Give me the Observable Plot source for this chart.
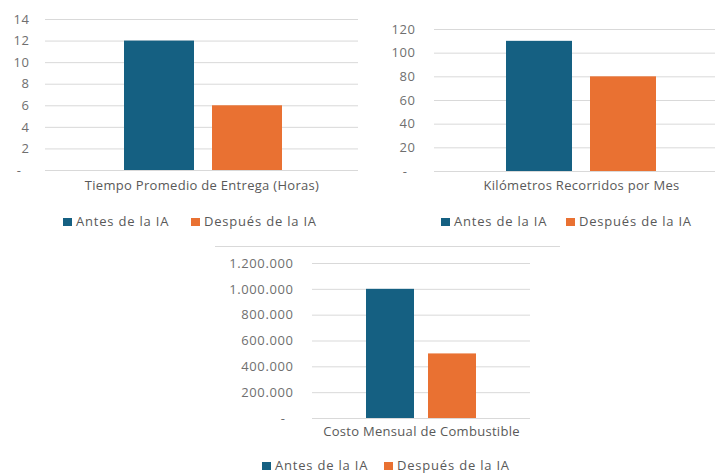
<!DOCTYPE html>
<html>
<head>
<meta charset="utf-8">
<script src="https://cdn.jsdelivr.net/npm/d3@7"></script>
<script src="https://cdn.jsdelivr.net/npm/@observablehq/plot@0.6"></script>
<style>
  html, body { margin: 0; padding: 0; background: #fff; }
  body { width: 715px; height: 474px; position: relative; overflow: hidden; font-family: "Open Sans", sans-serif; }
  .chart { position: absolute; }
  .chart svg { overflow: visible; max-width: none !important; }
  .chart svg g[aria-label="y-axis tick label"] text { letter-spacing: 0.6px; fill: #6f6f6f; }
  .chart svg g[aria-label="text"] text { letter-spacing: 0.3px; }
  .legend { position: absolute; font-size: 13px; color: #595959; white-space: nowrap; height: 16px; line-height: 16px; letter-spacing: 0.8px; }
  .legend span.sw { display: inline-block; width: 9px; height: 8px; margin-right: 4px; vertical-align: 0px; }
  .legend span.item { position: absolute; top: 0; }
  .border { position: absolute; height: 0; border-top: 1px solid #d9d9d9; }
</style>
</head>
<body>
<div class="border" style="left:215px; top:246px; width:345px;"></div>
<script>
const series = ["Antes de la IA", "Después de la IA"];
const seriesColors = ["#156082", "#E97132"];
const categories = ["Tiempo Promedio de Entrega (Horas)", "Kilómetros Recorridos por Mes", "Costo Mensual de Combustible"];
const tiempo = [12, 6];
const kilometros = [110, 80];
const costo = [1000000, 500000];
const ticksTiempo = [0, 2, 4, 6, 8, 10, 12, 14];
const ticksKm = [0, 20, 40, 60, 80, 100, 120];
const ticksCosto = [0, 200000, 400000, 600000, 800000, 1000000, 1200000];

const esFmt = d3.formatLocale({decimal: ",", thousands: ".", grouping: [3], currency: ["", ""]}).format(",");

function makeChart(cfg) {
  const data = series.map((s, i) => ({series: s, value: cfg.values[i]}));
  const plot = Plot.plot({
    width: cfg.width,
    height: cfg.height,
    marginLeft: cfg.ml, marginRight: cfg.mr, marginTop: cfg.mt, marginBottom: cfg.mb,
    style: {fontFamily: "'Open Sans', sans-serif", fontSize: "13px", color: "#595959", background: "transparent", overflow: "visible"},
    x: {type: "band", domain: series, range: cfg.xr, paddingInner: cfg.pad, paddingOuter: 0, axis: null},
    y: {domain: [cfg.ticks[0], cfg.ticks[cfg.ticks.length - 1]], axis: null},
    color: {domain: series, range: seriesColors},
    marks: [
      Plot.ruleY(cfg.ticks, {stroke: "#d9d9d9", strokeWidth: 1}),
      Plot.axisY({ticks: cfg.ticks, tickSize: 0, tickPadding: cfg.tp, label: null,
        tickFormat: d => d === 0 ? "-\u2007" : cfg.fmt(d)}),
      Plot.barY(data, {x: "series", y: "value", fill: "series"}),
      Plot.text([cfg.category], {frameAnchor: "bottom", dy: cfg.dyLabel, text: d => d, fill: "#595959", fontSize: 13})
    ]
  });
  const div = document.createElement("div");
  div.className = "chart";
  div.style.left = cfg.left + "px";
  div.style.top = cfg.top + "px";
  div.style.width = cfg.width + "px";
  div.appendChild(plot);
  document.body.appendChild(div);

  const leg = document.createElement("div");
  leg.className = "legend";
  leg.style.left = "0px";
  leg.style.top = (cfg.legendY - 8) + "px";
  series.forEach((s, i) => {
    const it = document.createElement("span");
    it.className = "item";
    it.style.left = cfg.legendX[i] + "px";
    const sw = document.createElement("span");
    sw.className = "sw";
    sw.style.background = seriesColors[i];
    it.appendChild(sw);
    it.appendChild(document.createTextNode(s));
    leg.appendChild(it);
  });
  document.body.appendChild(leg);
}

makeChart({left: 0, top: 0, width: 360, height: 200, ml: 45, mr: 2, mt: 19, mb: 30,
  xr: [124, 282], pad: 18 / 88, tp: 16, ticks: ticksTiempo, values: tiempo, fmt: d => String(d),
  category: categories[0], dyLabel: 19, legendY: 221, legendX: [63, 191]});

makeChart({left: 360, top: 0, width: 368, height: 200, ml: 74, mr: 0, mt: 29, mb: 29,
  xr: [146, 296], pad: 18 / 84, tp: 19, ticks: ticksKm, values: kilometros, fmt: d => String(d),
  category: categories[1], dyLabel: 18, legendY: 221, legendX: [441, 566]});

makeChart({left: 190, top: 246, width: 350, height: 200, ml: 122, mr: 10, mt: 17, mb: 28,
  xr: [176, 286], pad: 14 / 62, tp: 19, ticks: ticksCosto, values: costo, fmt: esFmt,
  category: categories[2], dyLabel: 17, legendY: 465, legendX: [262, 384]});
</script>
</body>
</html>
